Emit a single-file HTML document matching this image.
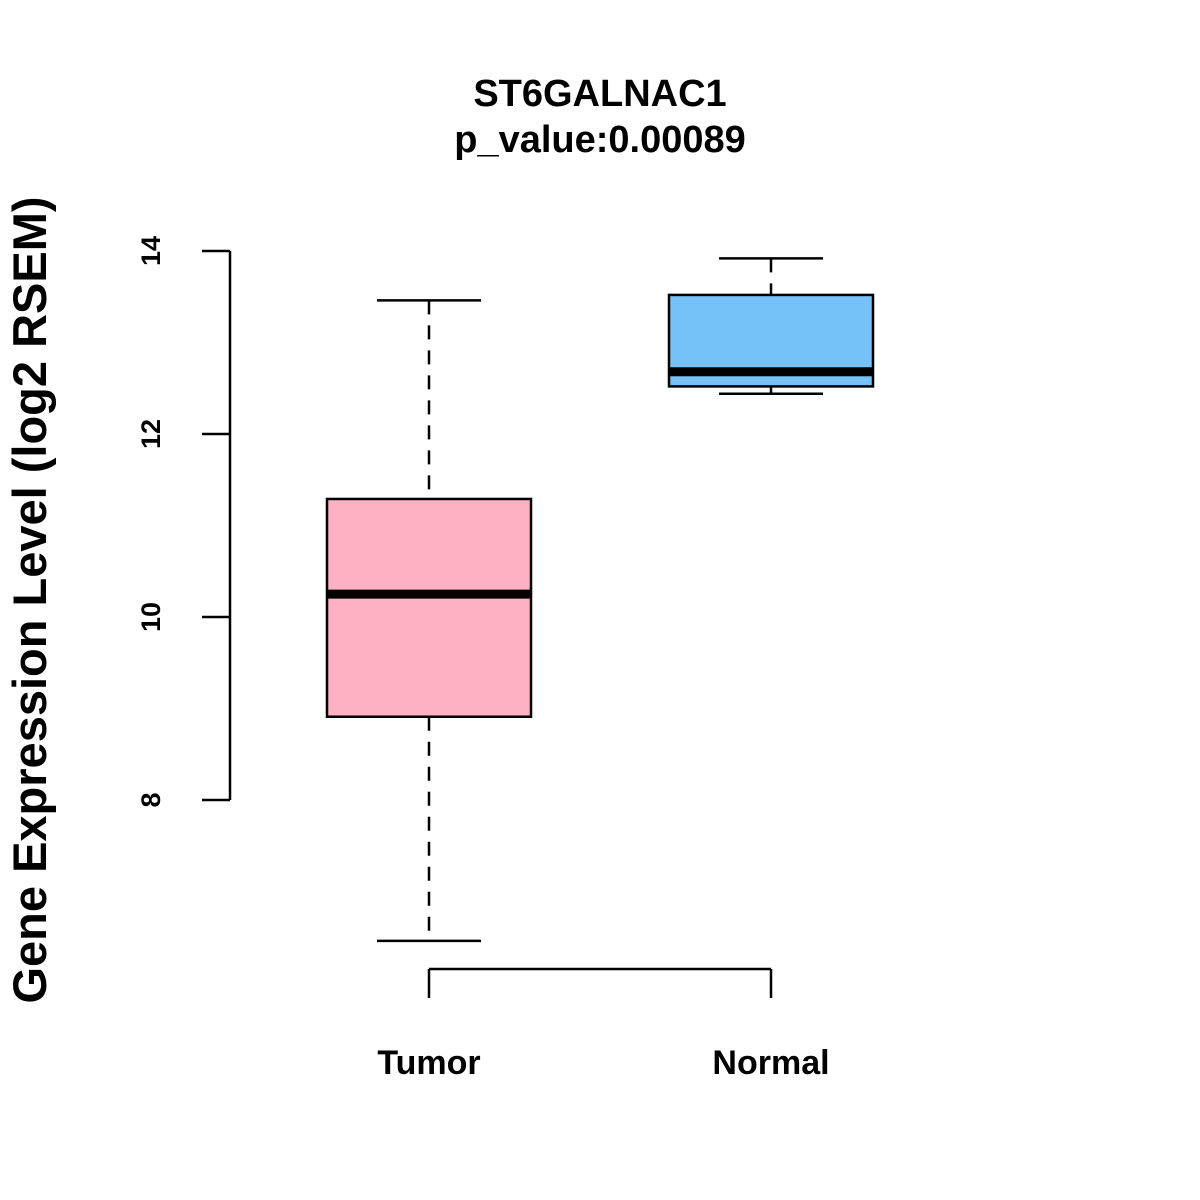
<!DOCTYPE html>
<html><head><meta charset="utf-8"><style>
html,body{margin:0;padding:0;background:#fff;}
svg{display:block;font-family:"Liberation Sans",Arial,sans-serif;font-weight:bold;}
</style></head><body>
<svg id="chart" width="1200" height="1200" viewBox="0 0 1200 1200" xmlns="http://www.w3.org/2000/svg">
<rect width="1200" height="1200" fill="#fff"/>
<text x="600" y="106" font-size="38" text-anchor="middle">ST6GALNAC1</text>
<text x="600" y="152" font-size="38" text-anchor="middle">p_value:0.00089</text>
<text transform="translate(46,600) rotate(-90)" font-size="47" text-anchor="middle">Gene Expression Level (log2 RSEM)</text>
<g id="plot"></g>
</svg>
<script>
const categories = ["Tumor", "Normal"];
const whiskerLow = [6.46, 12.44];
const q1 = [8.91, 12.52];
const medians = [10.25, 12.68];
const q3 = [11.29, 13.52];
const whiskerHigh = [13.46, 13.92];
const colors = ["#FDB1C2", "#77C1F9"];
const yTicks = [8, 10, 12, 14];

const NS = "http://www.w3.org/2000/svg";
const g = document.getElementById("plot");
function y(v){ return 251 + (14 - v) * 91.5; }
function x(i){ return 429 + i * 342; }
function mk(tag, attrs){
  const e = document.createElementNS(NS, tag);
  for (const k in attrs) e.setAttribute(k, attrs[k]);
  g.appendChild(e);
  return e;
}
let ax = mk("line", {x1:230, x2:230, y1:y(yTicks[yTicks.length-1]), y2:y(yTicks[0]), stroke:"#000", "stroke-width":2.5});


yTicks.forEach(t => {
  const l = mk("line", {x1:202, x2:230, y1:y(t), y2:y(t), stroke:"#000", "stroke-width":2.5});
  
  
  const tx = mk("text", {transform:`translate(160,${y(t)}) rotate(-90)`, "font-size":27, "text-anchor":"middle"});
  tx.textContent = t;
  
  
});
let xa = mk("line", {x1:x(0), x2:x(1), y1:969, y2:969, stroke:"#000", "stroke-width":2.5});


categories.forEach((c, i) => {
  const t = mk("line", {x1:x(i), x2:x(i), y1:969, y2:998, stroke:"#000", "stroke-width":2.5});
  
  
  const lb = mk("text", {x:x(i), y:1074, "font-size":34, "text-anchor":"middle"});
  lb.textContent = c;
  
  
});
categories.forEach((c, i) => {
  const cx = x(i);
  const w1 = mk("line", {x1:cx, x2:cx, y1:y(whiskerHigh[i]), y2:y(q3[i]), stroke:"#000", "stroke-width":2.5, "stroke-dasharray":"14,11"});
  
  
  const w2 = mk("line", {x1:cx, x2:cx, y1:y(q1[i]), y2:y(whiskerLow[i]), stroke:"#000", "stroke-width":2.5, "stroke-dasharray":"14,11"});
  
  
  const c1 = mk("line", {x1:cx-52, x2:cx+52, y1:y(whiskerHigh[i]), y2:y(whiskerHigh[i]), stroke:"#000", "stroke-width":2.5});
  
  
  const c2 = mk("line", {x1:cx-52, x2:cx+52, y1:y(whiskerLow[i]), y2:y(whiskerLow[i]), stroke:"#000", "stroke-width":2.5});
  
  
  const b = mk("rect", {x:cx-102, width:204, y:y(q3[i]), height:y(q1[i])-y(q3[i]), fill:colors[i], stroke:"#000", "stroke-width":2.5});
  
  
  const m = mk("line", {x1:cx-101, x2:cx+101, y1:y(medians[i]), y2:y(medians[i]), stroke:"#000", "stroke-width":9});
  
  
});
</script>
</body></html>
